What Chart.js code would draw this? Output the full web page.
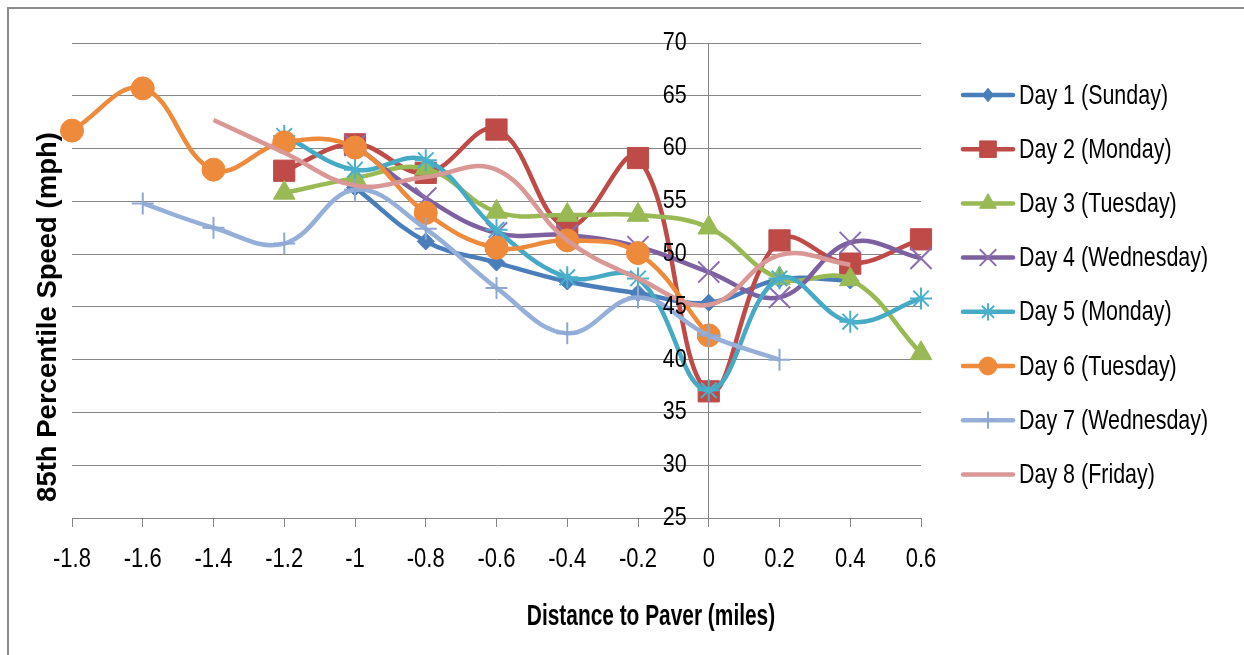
<!DOCTYPE html>
<html>
<head>
<meta charset="utf-8">
<script src="https://cdn.jsdelivr.net/npm/chart.js@4"></script>
<style>
  html, body { margin: 0; padding: 0; background: #fff; }
  #wrap { position: relative; width: 1244px; height: 655px; overflow: hidden; }
  #frame { position: absolute; left: 7px; top: 7px; width: 1300px; height: 700px;
           border-left: 2px solid #8c8c8c; border-top: 2px solid #8c8c8c; }
  canvas { position: absolute; left: 0; top: 0; }
</style>
</head>
<body>
<div id="wrap">
  <div id="frame"></div>
  <canvas id="c" width="1244" height="655"></canvas>
</div>
<script>
// ---- data ----
const xValues = [-1.8, -1.6, -1.4, -1.2, -1.0, -0.8, -0.6, -0.4, -0.2, 0, 0.2, 0.4, 0.6];
const xTickLabels = ["-1.8", "-1.6", "-1.4", "-1.2", "-1", "-0.8", "-0.6", "-0.4", "-0.2", "0", "0.2", "0.4", "0.6"];
const yTicks = [25, 30, 35, 40, 45, 50, 55, 60, 65, 70];
const yTickLabels = ["25", "30", "35", "40", "45", "50", "55", "60", "65", "70"];
const seriesNames = ["Day 1 (Sunday)", "Day 2 (Monday)", "Day 3 (Tuesday)", "Day 4 (Wednesday)",
                     "Day 5 (Monday)", "Day 6 (Tuesday)", "Day 7 (Wednesday)", "Day 8 (Friday)"];
const day1 = [null, null, null, null, 56.3, 51.2, 49.2, 47.4, 46.3, 45.4, 47.6, 47.5, null];
const day2 = [null, null, null, 57.9, 60.4, 57.7, 61.8, 52.6, 59.1, 37.0, 51.3, 49.1, 51.4];
const day3 = [null, null, null, 55.8, 57.2, 58.1, 54.0, 53.7, 53.7, 52.5, 47.7, 47.6, 40.6];
const day4 = [null, null, null, null, 60.3, 55.3, 52.0, 51.8, 50.7, 48.3, 45.9, 51.1, 49.6];
const day5 = [null, null, null, 61.2, 58.0, 58.9, 52.3, 47.8, 47.7, 37.1, 47.7, 43.6, 45.8];
const day6 = [61.7, 65.7, 58.0, 60.6, 60.1, 53.9, 50.6, 51.3, 50.1, 42.3, null, null, null];
const day7 = [null, 54.8, 52.5, 51.0, 56.1, 52.4, 46.8, 42.5, 45.9, 42.3, 40.0, null, null];
const day8 = [null, null, 62.7, 59.6, 56.5, 57.3, 58.0, 51.3, 47.7, 45.2, 49.9, 49.0, null];
const seriesValues = [day1, day2, day3, day4, day5, day6, day7, day8];

// ---- styles ----
const colors = ["#4A7EBB", "#BE4B48", "#98B954", "#7D60A0", "#46AAC5", "#EE8A3C", "#95AFD8", "#D99795"];
const markerColors = ["#4A7EBB", "#BE4B48", "#98B954", "#8A6DB0", "#4BB0CC", "#EE8A3C", "#8EA8D4", "#D99795"];
const markerStyles = ["rectRot", "rect", "triangle", "crossRot", "star", "circle", "cross", false];
const markerRadius = [8.5, 15, 12.5, 15, 11, 11.5, 11, 0];
const markerBorder = [1, 1, 1, 2, 2, 1, 2, 0];
const FAM = '"Liberation Sans", Arial, sans-serif';

// ---- helpers ----
function drawMarker(ctx, style, r, x, y) {
  ctx.beginPath();
  switch (style) {
    case 'circle': ctx.arc(x, y, r, 0, Math.PI * 2); ctx.fill(); ctx.stroke(); break;
    case 'rect': { const s = r * Math.SQRT1_2; ctx.rect(x - s, y - s, 2 * s, 2 * s); ctx.fill(); ctx.stroke(); break; }
    case 'rectRot': ctx.moveTo(x, y - r); ctx.lineTo(x + r * 0.85, y); ctx.lineTo(x, y + r); ctx.lineTo(x - r * 0.85, y); ctx.closePath(); ctx.fill(); ctx.stroke(); break;
    case 'triangle': ctx.moveTo(x, y - r); ctx.lineTo(x + r * 0.866, y + r * 0.5); ctx.lineTo(x - r * 0.866, y + r * 0.5); ctx.closePath(); ctx.fill(); ctx.stroke(); break;
    case 'cross': ctx.moveTo(x, y - r); ctx.lineTo(x, y + r); ctx.moveTo(x - r, y); ctx.lineTo(x + r, y); ctx.stroke(); break;
    case 'crossRot': { const d = r * Math.SQRT1_2; ctx.moveTo(x - d, y - d); ctx.lineTo(x + d, y + d); ctx.moveTo(x - d, y + d); ctx.lineTo(x + d, y - d); ctx.stroke(); break; }
    case 'star': { const d = r * Math.SQRT1_2; ctx.moveTo(x, y - r); ctx.lineTo(x, y + r); ctx.moveTo(x - r, y); ctx.lineTo(x + r, y);
      ctx.moveTo(x - d, y - d); ctx.lineTo(x + d, y + d); ctx.moveTo(x - d, y + d); ctx.lineTo(x + d, y - d); ctx.stroke(); break; }
  }
}
// text drawn slightly condensed (the reference uses a narrow face)
function drawText(ctx, txt, x, y, font, align, hscale) {
  ctx.save();
  ctx.translate(x, y);
  ctx.scale(hscale, 1);
  ctx.font = font;
  ctx.textAlign = align;
  ctx.textBaseline = 'middle';
  ctx.fillStyle = '#000';
  ctx.fillText(txt, 0, 0);
  ctx.restore();
}

const decorPlugin = {
  id: 'decor',
  afterDraw(chart) {
    const ctx = chart.ctx;
    const xs = chart.scales.x, ys = chart.scales.y;
    ctx.save();
    // x tick labels
    xValues.forEach((v, i) => {
      drawText(ctx, xTickLabels[i], xs.getPixelForValue(v), 559, '27.5px ' + FAM, 'center', 0.8);
    });
    // y tick labels, right of them is the y axis at x = 0
    const axisX = xs.getPixelForValue(0);
    yTicks.forEach((v, i) => {
      drawText(ctx, yTickLabels[i], axisX - 22, ys.getPixelForValue(v), '25px ' + FAM, 'right', 0.86);
    });
    // legend
    const lx0 = 963, lx1 = 1013, lmx = 988, ltx = 1019, ly0 = 95, lstep = 54.2;
    seriesNames.forEach((name, i) => {
      const y = ly0 + i * lstep;
      ctx.strokeStyle = colors[i]; ctx.lineWidth = 4.5; ctx.lineCap = 'round';
      ctx.beginPath(); ctx.moveTo(lx0, y); ctx.lineTo(lx1, y); ctx.stroke();
      ctx.lineCap = 'butt';
      if (markerStyles[i]) {
        ctx.fillStyle = markerColors[i]; ctx.strokeStyle = markerColors[i]; ctx.lineWidth = markerBorder[i];
        drawMarker(ctx, markerStyles[i], markerRadius[i] * 0.78, lmx, y);
      }
      drawText(ctx, name, ltx, y + 1, '27.5px ' + FAM, 'left', 0.78);
    });
    // axis titles
    drawText(ctx, 'Distance to Paver (miles)', 651, 617, 'bold 29px ' + FAM, 'center', 0.72);
    ctx.translate(48, 317); ctx.rotate(-Math.PI / 2);
    ctx.font = 'bold 27.5px ' + FAM;
    ctx.fillStyle = '#000';
    ctx.textAlign = 'center'; ctx.textBaseline = 'middle';
    ctx.fillText('85th Percentile Speed (mph)', 0, 0);
    ctx.restore();
  }
};

const datasets = seriesValues.map((vals, i) => ({
  label: seriesNames[i],
  data: xValues.map((x, j) => ({ x: x, y: vals[j] })).filter(p => p.y !== null),
  borderColor: colors[i],
  backgroundColor: markerColors[i],
  borderWidth: 4.5,
  tension: 0.4,
  fill: false,
  pointStyle: markerStyles[i],
  pointRadius: markerRadius[i],
  pointHoverRadius: markerRadius[i],
  pointBackgroundColor: markerColors[i],
  pointBorderColor: markerColors[i],
  pointBorderWidth: markerBorder[i],
  clip: false,
  order: 8 - i
}));

new Chart(document.getElementById('c'), {
  type: 'line',
  data: { datasets },
  options: {
    responsive: false,
    animation: false,
    events: [],
    layout: { padding: { left: 72, right: 323, top: 43, bottom: 0 } },
    plugins: { legend: { display: false }, tooltip: { enabled: false }, title: { display: false } },
    scales: {
      x: {
        type: 'linear', position: 'bottom', min: -1.8, max: 0.6,
        afterBuildTicks: s => { s.ticks = xValues.map(v => ({ value: v })); },
        afterFit: s => { s.height = 137; },
        ticks: { display: false, autoSkip: false, maxRotation: 0 },
        grid: { drawOnChartArea: false, drawTicks: true, tickLength: 9, color: '#868686', lineWidth: 1 },
        border: { display: true, color: '#868686', width: 1 }
      },
      y: {
        type: 'linear', position: { x: 0 }, min: 25, max: 70,
        afterBuildTicks: s => { s.ticks = yTicks.map(v => ({ value: v })); },
        ticks: { display: false },
        grid: { drawOnChartArea: true, drawTicks: false, color: '#868686', lineWidth: 1 },
        border: { display: true, color: '#868686', width: 1 }
      }
    }
  },
  plugins: [decorPlugin]
});
</script>
</body>
</html>
